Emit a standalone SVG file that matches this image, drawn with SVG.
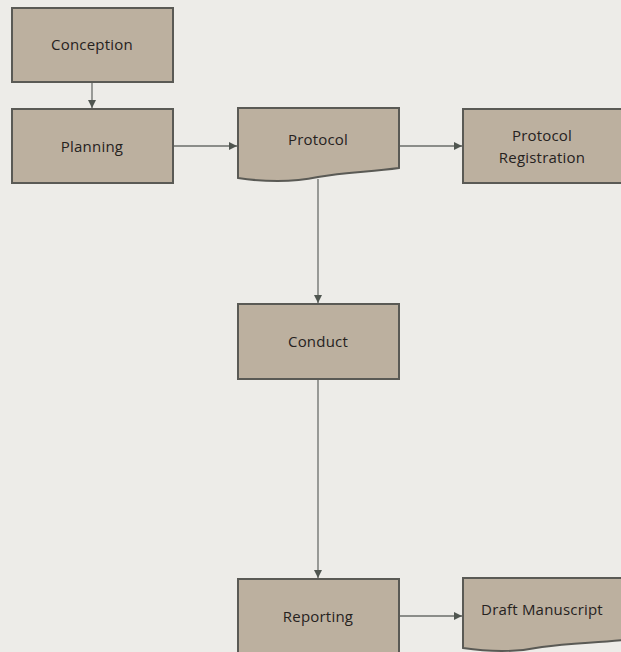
<svg xmlns="http://www.w3.org/2000/svg" width="621" height="652" viewBox="0 0 621 652">
  <style>
    .box { fill: #bcb09f; stroke: #5a5a55; stroke-width: 2; }
    .lbl { font-family: "Open Sans", Lato, sans-serif; font-size: 15px; font-weight: 500; fill: #26221e; text-anchor: middle; letter-spacing: 0.2px; }
    .edge { stroke: #6a6e6a; stroke-width: 1.3; fill: none; marker-end: url(#arrow); }
  </style>
  <defs>
    <marker id="arrow" viewBox="0 0 10 10" refX="10" refY="5" markerWidth="8" markerHeight="8" markerUnits="userSpaceOnUse" orient="auto">
      <path d="M0,0 L10,5 L0,10 z" fill="#505650"/>
    </marker>
  </defs>
  <rect width="621" height="652" fill="#edece8"/>

  <g id="connectors">
    <line class="edge" x1="92" y1="82" x2="92" y2="108"/>
    <line class="edge" x1="173" y1="146" x2="237" y2="146"/>
    <line class="edge" x1="400" y1="146" x2="462" y2="146"/>
    <line class="edge" x1="318" y1="179" x2="318" y2="303"/>
    <line class="edge" x1="318" y1="379" x2="318" y2="578"/>
    <line class="edge" x1="399" y1="616" x2="462" y2="616"/>
  </g>

  <g id="conception">
    <rect class="box" x="12" y="8" width="161" height="74"/>
    <text class="lbl" x="92" y="50">Conception</text>
  </g>
  <g id="planning">
    <rect class="box" x="12" y="109" width="161" height="74"/>
    <text class="lbl" x="92" y="152">Planning</text>
  </g>
  <g id="protocol">
    <path class="box" d="M238,108 H399 V168 C370,172 345,172 318,177 C295,182 265,182 238,178 Z"/>
    <text class="lbl" x="318" y="145">Protocol</text>
  </g>
  <g id="protocol-registration">
    <rect class="box" x="463" y="109" width="160" height="74"/>
    <text class="lbl" x="542" y="141">Protocol</text>
    <text class="lbl" x="542" y="163">Registration</text>
  </g>
  <g id="conduct">
    <rect class="box" x="238" y="304" width="161" height="75"/>
    <text class="lbl" x="318" y="347">Conduct</text>
  </g>
  <g id="reporting">
    <rect class="box" x="238" y="579" width="161" height="76"/>
    <text class="lbl" x="318" y="622">Reporting</text>
  </g>
  <g id="draft-manuscript">
    <path class="box" d="M463,578 H623 V640 C594,643 570,643 542,647 C518,652 490,652 463,648 Z"/>
    <text class="lbl" x="542" y="615">Draft Manuscript</text>
  </g>
</svg>
